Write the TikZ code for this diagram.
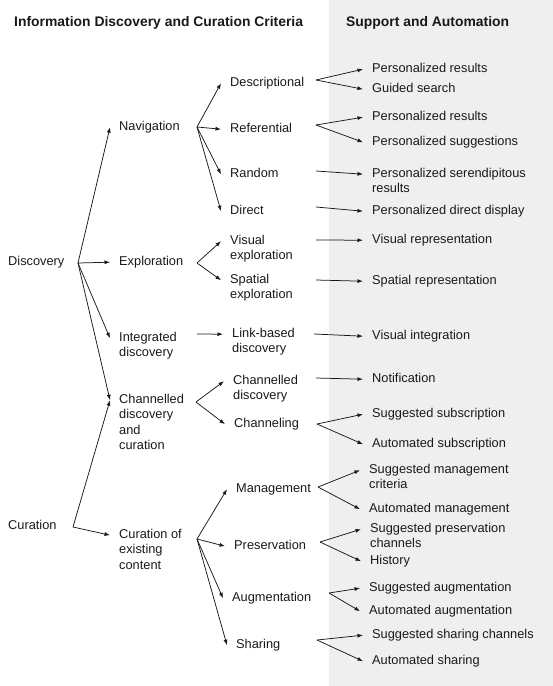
\documentclass[tikz,border=0pt]{standalone}
\usepackage{fontspec}
\setmainfont{Liberation Sans}
\usetikzlibrary{arrows.meta}
\definecolor{panel}{rgb}{0.937, 0.937, 0.937}
\definecolor{ink}{rgb}{0.10, 0.10, 0.10}
\tikzset{
    item/.style={anchor=north west,inner sep=0pt,align=left,text=ink,font=\fontsize{12.8}{15.3}\selectfont},
    head/.style={anchor=west,inner sep=0pt,text=ink,font=\fontsize{13.9}{16}\selectfont\bfseries},
    arr/.style={draw=ink,line width=0.75pt,-{Latex[length=5.5pt,width=4pt]}}
}

\begin{document}
\begin{tikzpicture}[x=1pt,y=-1pt]
        \useasboundingbox (0,0) rectangle (553,686);
        \fill[panel] (329,0) rectangle (553,686); % right column
        \node[head] (critHead) at (14,23) {Information Discovery and Curation Criteria};
        \node[head] (suppHead) at (346,23) {Support and Automation};
        % name/x/y of the first line's middle/text
        \foreach \n/\x/\y/\txt in {disc/8/260/Discovery, cur/8/524/Curation,
            nav/119/125/Navigation, expl/119/260/Exploration, integ/119/336/{Integrated\\discovery}, chan/119/398/{Channelled\\discovery\\and\\curation}, curx/119/533/{Curation of\\existing\\content},
            desc/230/81/Descriptional, ref/230/127/Referential, rand/230/172/Random, dir/230/209/Direct, vis/230/239/{Visual\\exploration}, spat/230/278/{Spatial\\exploration},
            link/232/332/{Link-based\\discovery}, chdisc/233/379/{Channelled\\discovery}, chl/234/422/Channeling, mgmt/236/487/Management, pres/234/544/Preservation, aug/232/596/Augmentation, shar/236/643/Sharing,
            s1/372/67/Personalized results, s2/372/87/Guided search, s3/372/115/Personalized results, s4/372/140/Personalized suggestions, s5/372/172/{Personalized serendipitous\\results},
            s6/372/209/Personalized direct display, s7/372/238/Visual representation, s8/372/279/Spatial representation, s9/372/334/Visual integration, s10/372/377/Notification,
            s11/372/412/Suggested subscription, s12/372/442/Automated subscription, s13/369/468/{Suggested management\\criteria}, s14/369/507/Automated management,
            s15/370/527/{Suggested preservation\\channels}, s16/370/559/History, s17/369/586/Suggested augmentation, s18/369/609/Automated augmentation,
            s19/372/633/Suggested sharing channels, s20/372/659/Automated sharing}{
            \node[item] (\n) at (\x,\y-3.8) {\txt};
        }
        % where the arrows of a node fan out
        \foreach \n/\x/\y in {disc/78/263, cur/73/527, nav/197/127, expl/197/263, integ/197/334, chan/196/402, curx/197/539,
            desc/316/80, ref/316/125, rand/316/171, dir/316/207, vis/316/240, spat/316/280, link/314/334, chdisc/316/378,
            chl/317/424, mgmt/318/487, pres/320/542, aug/329/593, shar/317/640}{
            \coordinate (\n-f) at (\x,\y);
        }
        \foreach \a/\b in {disc/nav, disc/expl, disc/integ, disc/chan, cur/chan, cur/curx,
            nav/desc, nav/ref, nav/rand, nav/dir, expl/vis, expl/spat, integ/link, chan/chdisc, chan/chl,
            curx/mgmt, curx/pres, curx/aug, curx/shar,
            desc/s1, desc/s2, ref/s3, ref/s4, rand/s5, dir/s6, vis/s7, spat/s8, link/s9, chdisc/s10,
            chl/s11, chl/s12, mgmt/s13, mgmt/s14, pres/s15, pres/s16, aug/s17, aug/s18, shar/s19, shar/s20}{
            \draw[arr] (\a-f) -- ([shift={(-9pt,-6pt)}]\b.north west);
        }
    \end{tikzpicture}
\end{document}
